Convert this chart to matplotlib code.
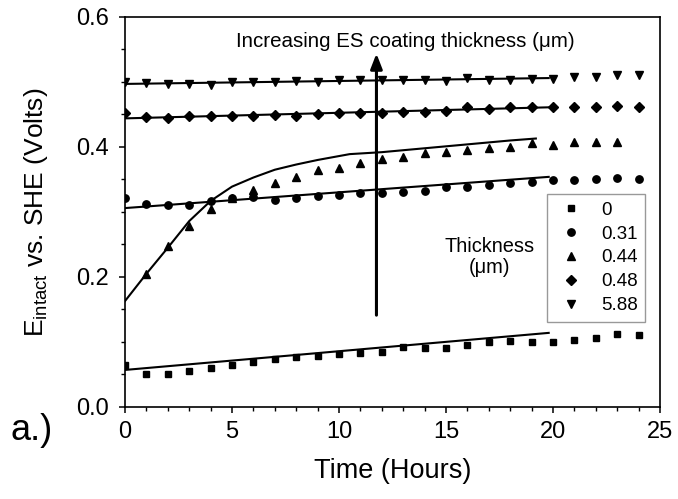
import numpy as np
import matplotlib.pyplot as plt
from matplotlib.ticker import MultipleLocator

plt.rcParams['font.family'] = ['Liberation Sans', 'DejaVu Sans']
plt.rcParams['mathtext.fontset'] = 'custom'
plt.rcParams['mathtext.rm'] = 'Liberation Sans'

hours = np.arange(25)
thick_labels = ['0', '0.31', '0.44', '0.48', '5.88']
markers = ['s', 'o', '^', 'D', 'v']

e_0 = [0.065, 0.051, 0.051, 0.056, 0.060, 0.064, 0.069, 0.074, 0.077, 0.079,
       0.082, 0.083, 0.084, 0.092, 0.091, 0.090, 0.095, 0.100, 0.101, 0.100,
       0.100, 0.103, 0.106, 0.112, 0.110]
e_031 = [0.322, 0.313, 0.310, 0.311, 0.317, 0.321, 0.323, 0.319, 0.321, 0.325,
         0.326, 0.329, 0.329, 0.331, 0.333, 0.338, 0.338, 0.341, 0.344, 0.346,
         0.349, 0.349, 0.351, 0.352, 0.351]
hours_044 = np.arange(1, 24)
e_044 = [0.205, 0.247, 0.278, 0.304, 0.321, 0.334, 0.344, 0.354, 0.364, 0.368,
         0.375, 0.381, 0.384, 0.391, 0.392, 0.395, 0.398, 0.400, 0.406, 0.403,
         0.407, 0.407, 0.407]
e_048 = [0.452, 0.446, 0.444, 0.447, 0.447, 0.447, 0.448, 0.449, 0.448, 0.451,
         0.452, 0.453, 0.453, 0.454, 0.454, 0.456, 0.462, 0.458, 0.461, 0.461,
         0.461, 0.461, 0.462, 0.463, 0.462]
e_588 = [0.500, 0.498, 0.497, 0.497, 0.496, 0.500, 0.500, 0.500, 0.502, 0.500,
         0.503, 0.503, 0.503, 0.503, 0.503, 0.502, 0.506, 0.503, 0.503, 0.505,
         0.505, 0.507, 0.508, 0.510, 0.510]

# model fits
fit_x = [0, 19.8]
fit_0 = [0.057, 0.114]
fit_031 = [0.306, 0.354]
fit_048 = [0.444, 0.461]
fit_588 = [0.497, 0.506]
curve_x = [0, 1, 2, 3, 4, 5, 6, 7, 8, 9, 10.5, 12, 14, 16, 18, 19.2]
curve_044 = [0.163, 0.205, 0.245, 0.286, 0.317, 0.339, 0.353, 0.365, 0.373,
             0.380, 0.389, 0.392, 0.398, 0.404, 0.410, 0.413]

fig = plt.figure(figsize=(6.78, 4.99), dpi=100)
ax = fig.add_axes([0.1844, 0.1844, 0.789, 0.7816])

series = [(hours, e_0), (hours, e_031), (hours_044, e_044), (hours, e_048), (hours, e_588)]
sizes = [4.8, 5.3, 6, 5.3, 6]
handles = []
for (x, y), m, s, lab in zip(series, markers, sizes, thick_labels):
    h, = ax.plot(x, y, m, color='black', markersize=s, linestyle='none', label=lab)
    handles.append(h)

for fy in [fit_0, fit_031, fit_048, fit_588]:
    ax.plot(fit_x, fy, color='black', lw=1.5)
ax.plot(curve_x, curve_044, color='black', lw=1.5)

ax.annotate('', xy=(11.75, 0.548), xytext=(11.75, 0.137),
            arrowprops=dict(arrowstyle='-|>,head_width=0.35,head_length=0.9',
                            color='black', lw=2.2))
ax.text(13.1, 0.562, 'Increasing ES coating thickness (μm)', ha='center', va='center',
        fontsize=14.8)
ax.text(17.05, 0.231, 'Thickness\n(μm)', ha='center', va='center', fontsize=14.4,
        linespacing=1.15)

leg = ax.legend(handles=handles, loc='upper left', bbox_to_anchor=(0.789, 0.546),
                borderaxespad=0, fontsize=13.5, frameon=True, fancybox=False,
                edgecolor='#999999', framealpha=1, handlelength=1.8,
                handletextpad=0.67, labelspacing=0.36, borderpad=0.4)
leg.get_frame().set_linewidth(1.0)

ax.set_xlim(0, 25)
ax.set_ylim(0, 0.6)
ax.xaxis.set_major_locator(MultipleLocator(5))
ax.xaxis.set_minor_locator(MultipleLocator(1))
ax.yaxis.set_major_locator(MultipleLocator(0.2))
ax.yaxis.set_minor_locator(MultipleLocator(0.05))
ax.yaxis.set_major_formatter(plt.FormatStrFormatter('%.1f'))
ax.tick_params(which='major', length=4.3, width=1.1, labelsize=17, direction='out')
ax.tick_params(which='minor', length=3, width=1.0, direction='out')
ax.tick_params(axis='x', which='major', pad=5.6)
ax.tick_params(axis='y', which='major', pad=7)
for sp in ax.spines.values():
    sp.set_linewidth(1.2)

ax.set_xlabel('Time (Hours)', fontsize=19.5)
ax.xaxis.set_label_coords(0.5, -0.131)
ax.xaxis.label.set_va('top')
ax.set_ylabel('E$_{\\mathrm{intact}}$ vs. SHE (Volts)', fontsize=19)
ax.yaxis.set_label_coords(-0.14, 0.5)
fig.text(0.046, 0.138, 'a.)', fontsize=26, ha='center', va='center')

fig.savefig('out.png', dpi=100)
